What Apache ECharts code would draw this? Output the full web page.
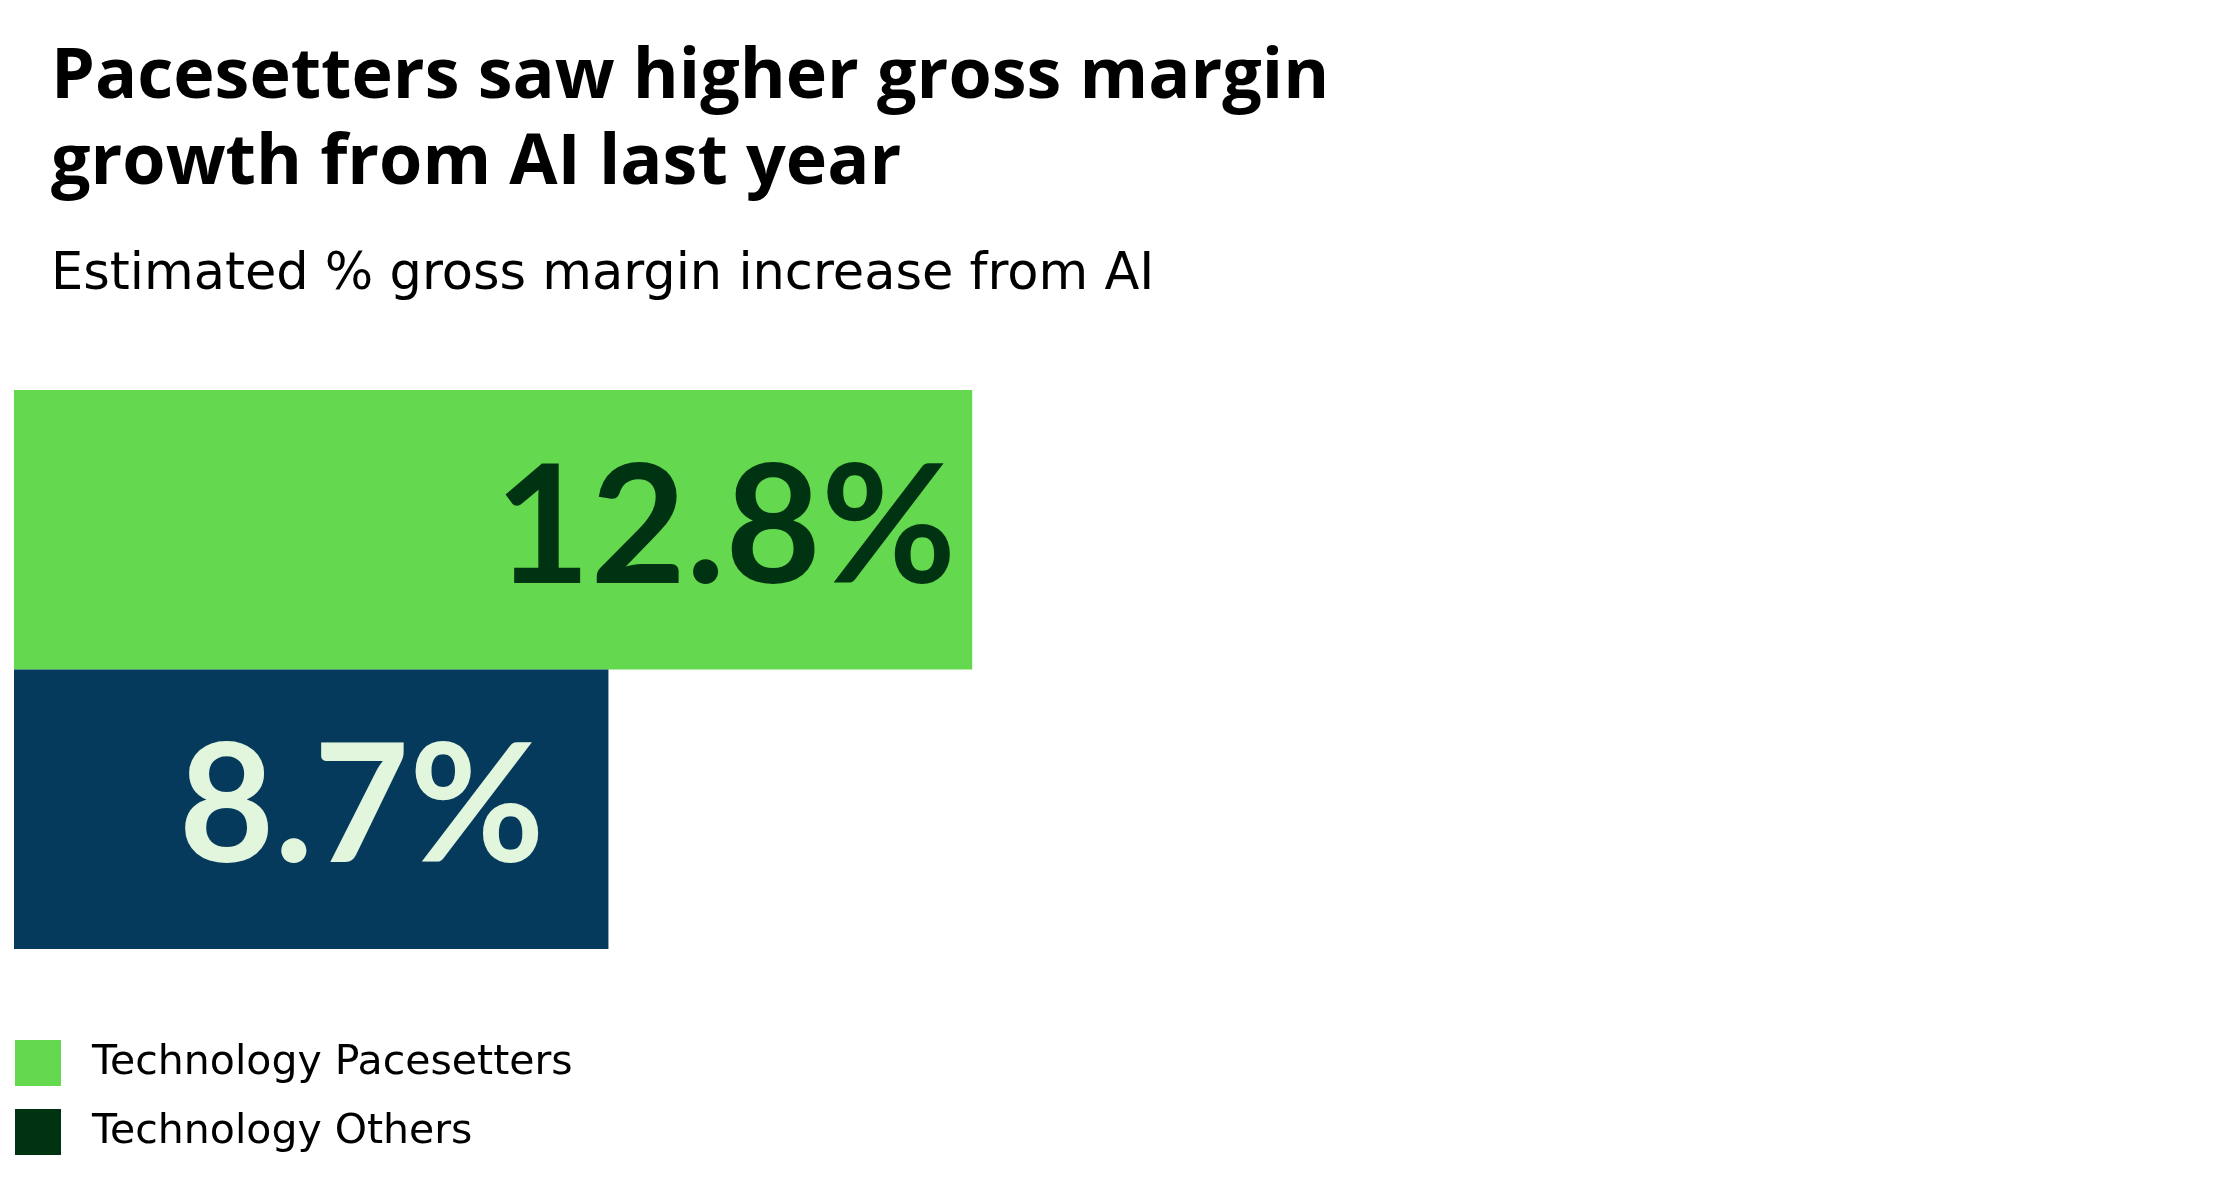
<!DOCTYPE html>
<html>
<head>
<meta charset="utf-8">
<script src="https://cdn.jsdelivr.net/npm/echarts@6/dist/echarts.min.js"></script>
<style>
  html, body { margin: 0; padding: 0; background: #fff; }
  #chart { width: 2218px; height: 1182px; }
</style>
</head>
<body>
<div id="chart"></div>
<script>
var categories = ['Technology Pacesetters', 'Technology Others'];
var pacesetterValues = [12.8, '-'];
var otherValues = ['-', 8.7];

var myChart = echarts.init(document.getElementById('chart'));

var option = {
  backgroundColor: '#ffffff',
  title: [
    {
      text: 'Pacesetters saw higher gross margin\ngrowth from AI last year',
      left: 46,
      top: 30,
      textStyle: {
        fontFamily: 'Open Sans',
        fontWeight: 'bold',
        fontSize: 70,
        lineHeight: 86,
        color: '#000000'
      }
    },
    {
      text: 'Estimated % gross margin increase from AI',
      left: 46,
      top: 245,
      textStyle: {
        fontFamily: 'DejaVu Sans',
        fontWeight: 'normal',
        fontSize: 51,
        color: '#000000'
      }
    }
  ],
  legend: {
    orient: 'vertical',
    left: 15,
    top: 1040,
    padding: 0,
    itemWidth: 46,
    itemHeight: 46,
    itemGap: 23,
    icon: 'rect',
    textStyle: {
      fontFamily: 'DejaVu Sans',
      fontSize: 41,
      color: '#000000',
      padding: [0, 0, 0, 26]
    },
    data: [
      { name: 'Technology Pacesetters', itemStyle: { color: '#64D84F' } },
      { name: 'Technology Others', itemStyle: { color: '#003311' } }
    ]
  },
  grid: {
    left: 14,
    right: 607,
    top: 390,
    bottom: 233
  },
  xAxis: {
    type: 'value',
    min: 2,
    max: 20,
    show: false
  },
  yAxis: {
    type: 'category',
    data: categories,
    inverse: true,
    show: false
  },
  series: [
    {
      name: 'Technology Pacesetters',
      type: 'bar',
      stack: 'all',
      barCategoryGap: 0,
      data: pacesetterValues,
      itemStyle: { color: '#64D84F' },
      label: {
        show: true,
        position: 'insideRight',
        distance: 16,
        formatter: '{c}%',
        fontFamily: 'Lato',
        fontWeight: 'bold',
        fontSize: 165,
        color: '#003311'
      }
    },
    {
      name: 'Technology Others',
      type: 'bar',
      stack: 'all',
      barCategoryGap: 0,
      data: otherValues,
      itemStyle: { color: '#053A5C' },
      label: {
        show: true,
        position: 'insideRight',
        distance: 64,
        formatter: '{c}%',
        fontFamily: 'Lato',
        fontWeight: 'bold',
        fontSize: 165,
        color: '#E1F6DC'
      }
    }
  ]
};

myChart.setOption(option);
</script>
</body>
</html>
